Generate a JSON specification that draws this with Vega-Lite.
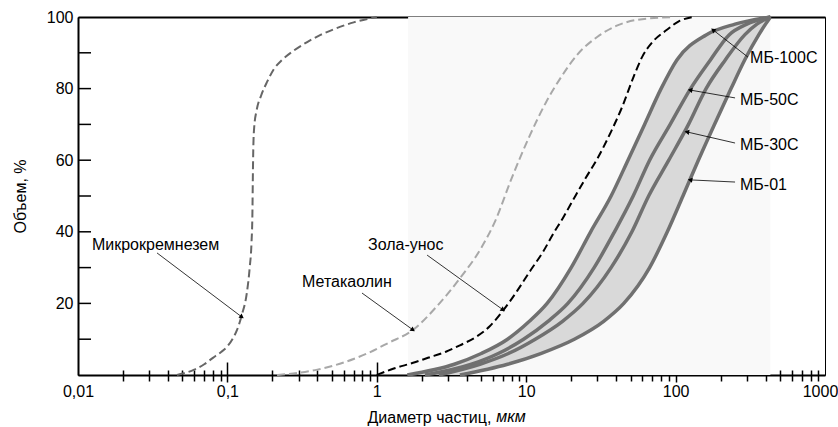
{
  "$schema": "https://vega.github.io/schema/vega-lite/v6.json",
  "width": 747,
  "height": 358,
  "autosize": "none",
  "padding": {"left": 78, "top": 17, "right": 13, "bottom": 52},
  "background": "#ffffff",
  "config": {
    "font": "Liberation Sans",
    "view": {"stroke": "#000000", "strokeWidth": 1},
    "axis": {"labelFont": "Liberation Sans", "titleFont": "Liberation Sans", "grid": false}
  },
  "datasets": {
    "curves": [
      {"s": "MS", "d": 0.046, "v": 0}, {"s": "MS", "d": 0.06, "v": 1.5}, {"s": "MS", "d": 0.07, "v": 3}, {"s": "MS", "d": 0.08, "v": 4.8},
      {"s": "MS", "d": 0.09, "v": 6.3}, {"s": "MS", "d": 0.1, "v": 8}, {"s": "MS", "d": 0.108, "v": 10}, {"s": "MS", "d": 0.116, "v": 12.6},
      {"s": "MS", "d": 0.125, "v": 16.8}, {"s": "MS", "d": 0.135, "v": 23}, {"s": "MS", "d": 0.141, "v": 30}, {"s": "MS", "d": 0.145, "v": 37},
      {"s": "MS", "d": 0.147, "v": 45}, {"s": "MS", "d": 0.148, "v": 55}, {"s": "MS", "d": 0.149, "v": 63}, {"s": "MS", "d": 0.151, "v": 69},
      {"s": "MS", "d": 0.157, "v": 74}, {"s": "MS", "d": 0.168, "v": 78}, {"s": "MS", "d": 0.185, "v": 82}, {"s": "MS", "d": 0.205, "v": 85.5},
      {"s": "MS", "d": 0.232, "v": 88}, {"s": "MS", "d": 0.28, "v": 90.7}, {"s": "MS", "d": 0.342, "v": 93}, {"s": "MS", "d": 0.42, "v": 95},
      {"s": "MS", "d": 0.51, "v": 96.5}, {"s": "MS", "d": 0.7, "v": 98.5}, {"s": "MS", "d": 1.0, "v": 100},
      {"s": "MK", "d": 0.215, "v": 0}, {"s": "MK", "d": 0.3, "v": 0.6}, {"s": "MK", "d": 0.4, "v": 1.5}, {"s": "MK", "d": 0.6, "v": 3.5},
      {"s": "MK", "d": 0.86, "v": 6}, {"s": "MK", "d": 1.2, "v": 9}, {"s": "MK", "d": 1.75, "v": 12.6}, {"s": "MK", "d": 2.5, "v": 19},
      {"s": "MK", "d": 3.6, "v": 27}, {"s": "MK", "d": 5, "v": 35.5}, {"s": "MK", "d": 6.2, "v": 43}, {"s": "MK", "d": 8, "v": 55},
      {"s": "MK", "d": 10.6, "v": 67}, {"s": "MK", "d": 13.5, "v": 76}, {"s": "MK", "d": 17, "v": 83}, {"s": "MK", "d": 22, "v": 89.5},
      {"s": "MK", "d": 30, "v": 94.5}, {"s": "MK", "d": 40, "v": 97.5}, {"s": "MK", "d": 55, "v": 99.2}, {"s": "MK", "d": 97, "v": 100},
      {"s": "ZU", "d": 1.0, "v": 0}, {"s": "ZU", "d": 1.3, "v": 1.8}, {"s": "ZU", "d": 1.75, "v": 3.4}, {"s": "ZU", "d": 2.2, "v": 4.8},
      {"s": "ZU", "d": 2.9, "v": 6.5}, {"s": "ZU", "d": 3.6, "v": 8.3}, {"s": "ZU", "d": 4.6, "v": 10.6}, {"s": "ZU", "d": 5.7, "v": 13.6},
      {"s": "ZU", "d": 7, "v": 18}, {"s": "ZU", "d": 8.7, "v": 23.5}, {"s": "ZU", "d": 10.6, "v": 29}, {"s": "ZU", "d": 13, "v": 34.5},
      {"s": "ZU", "d": 15.2, "v": 39.5}, {"s": "ZU", "d": 17.7, "v": 44}, {"s": "ZU", "d": 21, "v": 49.5}, {"s": "ZU", "d": 25, "v": 55},
      {"s": "ZU", "d": 30, "v": 60.5}, {"s": "ZU", "d": 37, "v": 68}, {"s": "ZU", "d": 44, "v": 75}, {"s": "ZU", "d": 52, "v": 83},
      {"s": "ZU", "d": 60, "v": 89}, {"s": "ZU", "d": 70, "v": 93}, {"s": "ZU", "d": 88, "v": 96.5}, {"s": "ZU", "d": 105, "v": 98.8},
      {"s": "ZU", "d": 131, "v": 100}
    ],
    "mb": [
      {"s": "MB100", "v": 0, "d": 1.6}, {"s": "MB100", "v": 3, "d": 3.3}, {"s": "MB100", "v": 6, "d": 5.0}, {"s": "MB100", "v": 10, "d": 7.5},
      {"s": "MB100", "v": 15, "d": 10.5}, {"s": "MB100", "v": 20, "d": 13.8}, {"s": "MB100", "v": 30, "d": 20}, {"s": "MB100", "v": 40, "d": 27},
      {"s": "MB100", "v": 50, "d": 37}, {"s": "MB100", "v": 60, "d": 48}, {"s": "MB100", "v": 70, "d": 62}, {"s": "MB100", "v": 80, "d": 80},
      {"s": "MB100", "v": 88, "d": 102}, {"s": "MB100", "v": 95, "d": 160}, {"s": "MB100", "v": 98, "d": 250}, {"s": "MB100", "v": 100, "d": 431},
      {"s": "MB50", "v": 0, "d": 2.1}, {"s": "MB50", "v": 3, "d": 4.3}, {"s": "MB50", "v": 6, "d": 6.5}, {"s": "MB50", "v": 10, "d": 9.6},
      {"s": "MB50", "v": 15, "d": 14}, {"s": "MB50", "v": 20, "d": 19}, {"s": "MB50", "v": 30, "d": 28.5}, {"s": "MB50", "v": 40, "d": 39},
      {"s": "MB50", "v": 50, "d": 52}, {"s": "MB50", "v": 60, "d": 67}, {"s": "MB50", "v": 70, "d": 92}, {"s": "MB50", "v": 80, "d": 126},
      {"s": "MB50", "v": 88, "d": 171}, {"s": "MB50", "v": 95, "d": 228}, {"s": "MB50", "v": 98, "d": 300}, {"s": "MB50", "v": 100, "d": 431},
      {"s": "MB30", "v": 0, "d": 2.6}, {"s": "MB30", "v": 3, "d": 4.9}, {"s": "MB30", "v": 6, "d": 7.6}, {"s": "MB30", "v": 10, "d": 11.5},
      {"s": "MB30", "v": 15, "d": 17.5}, {"s": "MB30", "v": 20, "d": 24}, {"s": "MB30", "v": 30, "d": 37}, {"s": "MB30", "v": 40, "d": 51},
      {"s": "MB30", "v": 50, "d": 66}, {"s": "MB30", "v": 60, "d": 90}, {"s": "MB30", "v": 70, "d": 122}, {"s": "MB30", "v": 80, "d": 160},
      {"s": "MB30", "v": 88, "d": 215}, {"s": "MB30", "v": 95, "d": 290}, {"s": "MB30", "v": 98, "d": 350}, {"s": "MB30", "v": 100, "d": 431},
      {"s": "MB01", "v": 0, "d": 3.6}, {"s": "MB01", "v": 3, "d": 7.5}, {"s": "MB01", "v": 6, "d": 12.5}, {"s": "MB01", "v": 10, "d": 21},
      {"s": "MB01", "v": 15, "d": 33}, {"s": "MB01", "v": 20, "d": 45}, {"s": "MB01", "v": 30, "d": 67}, {"s": "MB01", "v": 40, "d": 88},
      {"s": "MB01", "v": 50, "d": 112}, {"s": "MB01", "v": 60, "d": 142}, {"s": "MB01", "v": 70, "d": 182}, {"s": "MB01", "v": 80, "d": 235},
      {"s": "MB01", "v": 88, "d": 290}, {"s": "MB01", "v": 95, "d": 360}, {"s": "MB01", "v": 98, "d": 400}, {"s": "MB01", "v": 100, "d": 431}
    ],
    "ann": [
      {"lab": "Микрокремнезем", "lx": 0.0124, "ly": 36.3, "ax": 0.0338, "ay": 34.1, "tx": 0.125, "ty": 16.2},
      {"lab": "Метакаолин", "lx": 0.316, "ly": 26, "ax": 0.796, "ay": 22.9, "tx": 1.746, "ty": 12.6},
      {"lab": "Зола-унос", "lx": 0.873, "ly": 36.3, "ax": 2.17, "ay": 33.5, "tx": 7.0, "ty": 18.2},
      {"lab": "МБ-100С", "lx": 315, "ly": 88.5, "ax": 305, "ay": 88.8, "tx": 178, "ty": 96.4},
      {"lab": "МБ-50С", "lx": 270, "ly": 76.8, "ax": 250, "ay": 77.4, "tx": 125, "ty": 79.6},
      {"lab": "МБ-30С", "lx": 270, "ly": 64.2, "ax": 250, "ay": 64.8, "tx": 119, "ty": 67.9},
      {"lab": "МБ-01", "lx": 270, "ly": 53.1, "ax": 250, "ay": 53.9, "tx": 125, "ty": 54.5}
    ],
    "unit": [{"t": "мкм", "x": 6.3, "y": -11.7}],
    "bg": [{"a": 1.62, "b": 431}],
    "yticks": [{"t": 10}, {"t": 20}, {"t": 30}, {"t": 40}, {"t": 50}, {"t": 60}, {"t": 70}, {"t": 80}, {"t": 90}]
  },
  "resolve": {"axis": {"x": "independent", "y": "independent"}},
  "layer": [
    {
      "data": {"name": "bg"},
      "mark": {"type": "rect", "color": "#f9f9f9"},
      "encoding": {
        "x": {"field": "a", "type": "quantitative", "scale": {"type": "log", "domain": [0.01, 1000], "nice": false},
          "axis": {"orient": "bottom", "values": [0.01, 0.1, 1, 10, 100, 1000], "ticks": false, "domain": true, "domainColor": "#000000", "domainWidth": 2,
            "labelExpr": "replace(toString(datum.value), '.', ',')", "labelFontSize": 16, "labelColor": "#000000", "labelPadding": 8,
            "labelOffset": {"condition": {"test": "datum.value == 1000", "value": -5}, "value": 0},
            "labelFlush": false, "labelOverlap": false, "title": "Диаметр частиц,", "titleFontSize": 16, "titleFontWeight": "normal",
            "titleColor": "#000000", "titleX": 289, "titleY": 42, "titleAlign": "left", "titleBaseline": "middle"}},
        "x2": {"field": "b"}
      }
    },
    {
      "data": {"name": "mb"},
      "transform": [{"pivot": "s", "value": "d", "groupby": ["v"]}],
      "mark": {"type": "area", "orient": "horizontal", "interpolate": "monotone", "color": "#d9d9d9"},
      "encoding": {
        "y": {"field": "v", "type": "quantitative", "scale": {"domain": [0, 100], "nice": false, "zero": false},
          "axis": {"orient": "left", "values": [20, 40, 60, 80, 100], "ticks": false,
            "domain": true, "domainColor": "#000000", "domainWidth": 2, "labelPadding": 5,
            "labelFontSize": 16, "labelColor": "#000000", "labelOverlap": false, "labelFlush": false, "title": "Объем, %", "titleFontSize": 16, "titleFontWeight": "normal",
            "titleColor": "#000000", "titleX": -58, "titleY": 179, "titleAngle": -90, "titleAlign": "center", "titleBaseline": "middle"}},
        "x": {"field": "MB100", "type": "quantitative", "scale": {"type": "log", "domain": [0.01, 1000], "nice": false},
          "axis": {"orient": "bottom", "values": [0.02, 0.03, 0.04, 0.05, 0.06, 0.07, 0.08, 0.09, 0.1, 0.2, 0.3, 0.4, 0.5, 0.6, 0.7, 0.8, 0.9, 1, 2, 3, 4, 5, 6, 7, 8, 9, 10, 20, 30, 40, 50, 60, 70, 80, 90, 100, 200, 300, 400, 500, 600, 700, 800, 900],
            "labels": false, "domain": false, "ticks": true, "tickColor": "#000000", "tickWidth": 1.5,
            "tickSize": {"condition": {"test": "indexof([0.1, 1, 10, 100], datum.value) >= 0", "value": 7}, "value": 6}, "title": null}},
        "x2": {"field": "MB01"}
      }
    },
    {
      "data": {"name": "yticks"},
      "mark": {"type": "rule", "color": "#000000", "strokeWidth": 1.5},
      "encoding": {
        "y": {"field": "t", "type": "quantitative", "axis": null},
        "x": {"datum": 0.01, "type": "quantitative", "axis": null},
        "x2": {"datum": 0.01222}
      }
    },
    {
      "data": {"name": "mb"},
      "mark": {"type": "line", "interpolate": "monotone", "color": "#707070", "strokeWidth": 3.5},
      "encoding": {
        "x": {"field": "d", "type": "quantitative", "scale": {"type": "log", "domain": [0.01, 1000], "nice": false},
          "axis": {"orient": "bottom", "values": [0.02, 0.03, 0.04, 0.05, 0.06, 0.07, 0.08, 0.09, 0.1, 0.2, 0.3, 0.4, 0.5, 0.6, 0.7, 0.8, 0.9, 1, 2, 3, 4, 5, 6, 7, 8, 9, 10, 20, 30, 40, 50, 60, 70, 80, 90, 100, 200, 300, 400, 500, 600, 700, 800, 900],
            "labels": false, "domain": false, "ticks": true, "tickColor": "#000000", "tickWidth": 1.5,
            "tickSize": {"condition": {"test": "indexof([0.1, 1, 10, 100], datum.value) >= 0", "value": -13}, "value": -5}, "title": null}},
        "y": {"field": "v", "type": "quantitative", "scale": {"domain": [0, 100], "nice": false, "zero": false}, "axis": null},
        "detail": {"field": "s"},
        "order": {"field": "v"}
      }
    },
    {
      "data": {"name": "curves"},
      "mark": {"type": "line", "interpolate": "monotone", "strokeWidth": 2, "strokeDash": [8, 4]},
      "encoding": {
        "x": {"field": "d", "type": "quantitative", "axis": null},
        "y": {"field": "v", "type": "quantitative", "axis": null},
        "color": {"field": "s", "type": "nominal", "scale": {"domain": ["MS", "MK", "ZU"], "range": ["#666666", "#a8a8a8", "#000000"]}, "legend": null},
        "order": {"field": "v"}
      }
    },
    {
      "data": {"name": "ann"},
      "mark": {"type": "rule", "color": "#000000", "strokeWidth": 0.8},
      "encoding": {
        "x": {"field": "ax", "type": "quantitative", "axis": null},
        "y": {"field": "ay", "type": "quantitative", "axis": null},
        "x2": {"field": "tx"},
        "y2": {"field": "ty"}
      }
    },
    {
      "data": {"name": "ann"},
      "transform": [{"filter": {"field": "lab", "oneOf": ["Микрокремнезем", "Метакаолин", "Зола-унос"]}}],
      "mark": {"type": "point", "shape": "triangle-right", "filled": true, "color": "#000000", "opacity": 1, "size": 28, "angle": 36},
      "encoding": {
        "x": {"field": "tx", "type": "quantitative", "axis": null},
        "y": {"field": "ty", "type": "quantitative", "axis": null}
      }
    },
    {
      "data": {"name": "ann"},
      "transform": [{"filter": {"field": "lab", "oneOf": ["МБ-50С", "МБ-30С", "МБ-01"]}}],
      "mark": {"type": "point", "shape": "triangle-right", "filled": true, "color": "#000000", "opacity": 1, "size": 28, "angle": 189},
      "encoding": {
        "x": {"field": "tx", "type": "quantitative", "axis": null},
        "y": {"field": "ty", "type": "quantitative", "axis": null}
      }
    },
    {
      "data": {"name": "ann"},
      "transform": [{"filter": {"field": "lab", "oneOf": ["МБ-100С"]}}],
      "mark": {"type": "point", "shape": "triangle-right", "filled": true, "color": "#000000", "opacity": 1, "size": 28, "angle": 218},
      "encoding": {
        "x": {"field": "tx", "type": "quantitative", "axis": null},
        "y": {"field": "ty", "type": "quantitative", "axis": null}
      }
    },
    {
      "data": {"name": "ann"},
      "mark": {"type": "text", "align": "left", "baseline": "middle", "fontSize": 16, "font": "Liberation Sans", "color": "#000000"},
      "encoding": {
        "x": {"field": "lx", "type": "quantitative",
          "axis": {"orient": "top", "domain": true, "domainColor": "#000000", "domainWidth": 2, "ticks": false, "labels": false, "title": null}},
        "y": {"field": "ly", "type": "quantitative", "axis": null},
        "text": {"field": "lab"}
      }
    },
    {
      "data": {"name": "unit"},
      "mark": {"type": "text", "align": "left", "baseline": "middle", "fontSize": 16, "fontStyle": "italic", "font": "Liberation Sans", "color": "#000000"},
      "encoding": {
        "x": {"field": "x", "type": "quantitative", "axis": null},
        "y": {"field": "y", "type": "quantitative", "axis": null},
        "text": {"field": "t"}
      }
    }
  ]
}
